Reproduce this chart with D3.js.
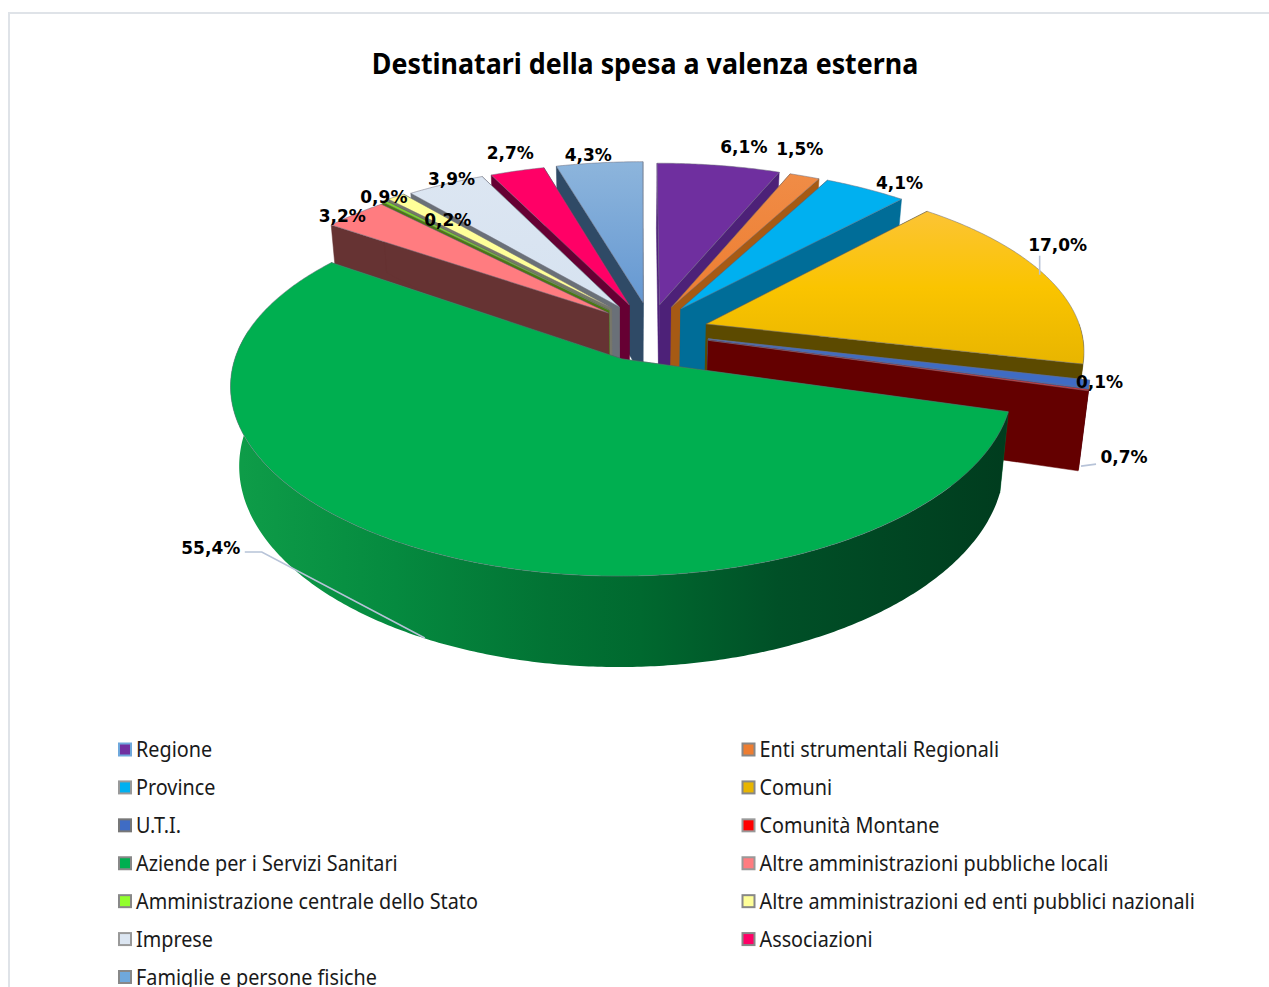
<!DOCTYPE html>
<html>
<head>
<meta charset="utf-8">
<script src="https://cdn.jsdelivr.net/npm/d3@7"></script>
<style>
html, body { margin: 0; padding: 0; background: #fff; overflow: hidden; }
svg { display: block; }
</style>
</head>
<body>
<div id="chart"></div>
<script>
const categories = [
    "Regione", "Enti strumentali Regionali", "Province", "Comuni", "U.T.I.", "Comunità Montane",
    "Aziende per i Servizi Sanitari", "Altre amministrazioni pubbliche locali",
    "Amministrazione centrale dello Stato", "Altre amministrazioni ed enti pubblici nazionali",
    "Imprese", "Associazioni", "Famiglie e persone fisiche",
];
const values = [6.1, 1.5, 4.1, 17.0, 0.7, 0.1, 55.4, 3.2, 0.2, 0.9, 3.9, 2.7, 4.3];

// colours: top face start/end, side wall, legend swatch border
const topColors = ["#6f2f9f", "#f08c46", "#00b0f0", "#fcc435", "#3f6cc4", "#ff2020", "#00af50", "#ff7c80", "#7fd62a", "#ffff99", "#dce6f2", "#ff0066", "#8db5dc"];
const topColorsMid = {3: "#fac400"};
const topColorsEnd = ["#6f2f9f", "#ed7d31", "#00b0f0", "#e8b500", "#3f6cc4", "#ff2020", "#00af50", "#ff7c80", "#7fd62a", "#ffff99", "#d6e2f0", "#ff0066", "#6598d2"];
const wallColors = ["#4d2178", "#a65a14", "#006d98", "#5c4a00", "#3f6cc4", "#640000", "#006a30", "#663333", "#4a7a10", "#77776a", "#6a7078", "#660033", "#2f4a66"];
const swatchColors = ["#7030a0", "#ed7d31", "#00b0f0", "#e8b500", "#3f6cc4", "#ff0000", "#00af50", "#ff7c80", "#92ff2d", "#ffff99", "#dce6f2", "#ff0066", "#6fa8dc"];
const swatchBorders = ["#6fa8dc", "#888", "#999", "#888", "#777", "#999", "#888", "#999", "#888", "#888", "#999", "#888", "#888"];

// how far each slice is pulled out of the pie, in pie radii
const explodeX = [0.092, 0.125, 0.150, 0.217, 0.220, 0.220, -0.008, -0.046, -0.045, -0.038, -0.017, 0.010, 0.048];
const explodeY = [0.309, 0.296, 0.285, 0.195, 0.108, 0.100, -0.005, 0.260, 0.278, 0.290, 0.297, 0.309, 0.321];
const radiusScale = [1, 1, 1, 1, 1, 1, 1.01, 1, 1, 1, 1, 1, 1];

// label text and where it sits relative to the middle of the slice rim
const labelTexts = ["6,1%", "1,5%", "4,1%", "17,0%", "0,7%", "0,1%", "55,4%", "3,2%", "0,2%", "0,9%", "3,9%", "2,7%", "4,3%"];
const labelDx = [25, -5, 34, 12, 35, 11, -216, -13, 64, -12, 6, -7, -11];
const labelDy = [-19, -27, -6, -31, 73, -8, -3, 2, 19, 0, -5, -18, -8];
// leader lines, relative to the label centre
const leaderLines = {
    3: [[-18, 11], [-18, 30]],
    4: [[-28, 7], [-43, 9]],
    6: [[34, 4], [51, 4], [214, 90]],
};

const width = 1269;
const height = 987;
const pie3d = {cx: 625, vanishX: 640, cy: 358, rx: 383, ry: 180, px: 0.14, py: 0.16, wall: 78, shrink: 0.978};

function project(x, y, bottom) {
    const sx = 1 / (1 + pie3d.px * y);
    const sy = 1 / (1 + pie3d.py * y);
    const px = pie3d.rx * x * sx + (1 - sx) * (pie3d.vanishX - pie3d.cx);
    const py = pie3d.cy - pie3d.ry * y * sy;
    if (!bottom) {
        return [pie3d.cx + px, py];
    }
    return [pie3d.cx + px * pie3d.shrink, py + pie3d.wall * sx];
}

const svg = d3.select("#chart")
    .append("svg")
    .attr("width", width)
    .attr("height", height)
    .attr("viewBox", `0 0 ${width} ${height}`);

const defs = svg.append("defs");

svg.append("path")
    .attr("d", `M9,${height} V13 H${width}`)
    .attr("fill", "none")
    .attr("stroke", "#dfe3e8")
    .attr("stroke-width", 2);

svg.append("text")
    .attr("transform", "translate(645, 74) scale(0.958, 1)")
    .attr("text-anchor", "middle")
    .attr("font-family", "'Noto Sans', sans-serif")
    .attr("font-weight", 700)
    .attr("font-size", 28)
    .attr("fill", "#000")
    .text("Destinatari della spesa a valenza esterna");

const slices = d3.pie().sort(null).value((d) => d)(values).map((arc, i) => ({
    index: i,
    start: arc.startAngle,
    end: arc.endAngle,
    mid: (arc.startAngle + arc.endAngle) / 2,
    ox: explodeX[i],
    oy: explodeY[i],
    r: radiusScale[i],
}));

function rimPoint(slice, angle, bottom) {
    return project(slice.ox + slice.r * Math.sin(angle), slice.oy + slice.r * Math.cos(angle), bottom);
}

function arcAngles(from, to) {
    const steps = Math.max(2, Math.ceil((to - from) / 0.01));
    return d3.range(steps + 1).map((k) => from + ((to - from) * k) / steps);
}

const pathLine = d3.line();
const closed = (points) => `${pathLine(points)}Z`;

// green wall shades from left to right, the others are flat
const wallGradient = defs.append("linearGradient")
    .attr("id", "wall-near")
    .attr("gradientUnits", "userSpaceOnUse")
    .attr("x1", pie3d.cx - pie3d.rx)
    .attr("x2", pie3d.cx + pie3d.rx)
    .attr("y1", 0)
    .attr("y2", 0);
[[0, "#0e9c48"], [0.2, "#058a3f"], [0.4, "#027334"], [0.52, "#00692f"], [0.7, "#005027"], [1, "#003c1e"]].forEach(([offset, color]) => {
    wallGradient.append("stop").attr("offset", offset).attr("stop-color", color);
});

slices.forEach((slice) => {
    const gradient = defs.append("linearGradient")
        .attr("id", `top-${slice.index}`)
        .attr("x1", 0).attr("x2", 0).attr("y1", 0).attr("y2", 1);
    gradient.append("stop").attr("offset", 0).attr("stop-color", topColors[slice.index]);
    if (topColorsMid[slice.index]) {
        gradient.append("stop").attr("offset", 0.5).attr("stop-color", topColorsMid[slice.index]);
    }
    gradient.append("stop").attr("offset", 1).attr("stop-color", topColorsEnd[slice.index]);
});

const edgeColor = "rgba(110,110,125,0.65)";
const plot = svg.append("g");

// far slices first so that nearer ones cover their walls
const drawOrder = slices.slice().sort((a, b) => Math.cos(b.mid) - Math.cos(a.mid));

drawOrder.forEach((slice) => {
    const i = slice.index;
    const wall = wallColors[i];
    const g = plot.append("g");
    const apexTop = project(slice.ox, slice.oy, false);
    const apexBottom = project(slice.ox, slice.oy, true);

    [slice.start, slice.end].forEach((angle) => {
        g.append("path")
            .attr("d", closed([apexTop, rimPoint(slice, angle, false), rimPoint(slice, angle, true), apexBottom]))
            .attr("fill", wall)
            .attr("stroke", wall)
            .attr("stroke-width", 0.5);
    });

    const from = Math.max(slice.start, Math.PI / 2);
    const to = Math.min(slice.end, Math.PI * 1.55);
    if (from < to) {
        const angles = arcAngles(from, to);
        const outer = angles.map((a) => rimPoint(slice, a, false))
            .concat(angles.slice().reverse().map((a) => rimPoint(slice, a, true)));
        const fill = i === 6 ? "url(#wall-near)" : wall;
        g.append("path")
            .attr("d", closed(outer))
            .attr("fill", fill)
            .attr("stroke", "none");
    }

    const top = [apexTop].concat(arcAngles(slice.start, slice.end).map((a) => rimPoint(slice, a, false)));
    g.append("path")
        .attr("d", closed(top))
        .attr("fill", `url(#top-${i})`)
        .attr("stroke", edgeColor)
        .attr("stroke-width", 0.8)
        .attr("stroke-linejoin", "round");
});

// data labels and leaders
const labelLayer = svg.append("g");
slices.forEach((slice) => {
    const i = slice.index;
    const rim = rimPoint(slice, slice.mid, false);
    const lx = rim[0] + labelDx[i];
    const ly = rim[1] + labelDy[i];
    if (leaderLines[i]) {
        labelLayer.append("path")
            .attr("d", pathLine(leaderLines[i].map(([dx, dy]) => [lx + dx, ly + dy])))
            .attr("fill", "none")
            .attr("stroke", "#b7c3d8")
            .attr("stroke-width", 1.6);
    }
    labelLayer.append("text")
        .attr("x", lx)
        .attr("y", ly)
        .attr("dy", "0.36em")
        .attr("text-anchor", "middle")
        .attr("font-family", "'DejaVu Sans', sans-serif")
        .attr("font-weight", 700)
        .attr("font-size", 17)
        .attr("fill", "#000")
        .text(labelTexts[i]);
});

// legend in two columns
const legendX = d3.scalePoint().domain([0, 1]).range([118, 741.5]);
const legendY = d3.scaleLinear().domain([0, 6]).range([749.5, 977]);
const legend = svg.append("g");
categories.forEach((name, i) => {
    const item = legend.append("g")
        .attr("transform", `translate(${legendX(i % 2)}, ${legendY(Math.floor(i / 2))})`);
    item.append("rect")
        .attr("x", 1)
        .attr("y", -6)
        .attr("width", 12)
        .attr("height", 12)
        .attr("fill", swatchColors[i])
        .attr("stroke", swatchBorders[i])
        .attr("stroke-width", 2);
    item.append("text")
        .attr("transform", "translate(18, 0) scale(0.943, 1)")
        .attr("dy", "0.36em")
        .attr("font-family", "'Noto Sans', sans-serif")
        .attr("font-size", 21)
        .attr("fill", "#1a1a1a")
        .text(name);
});
</script>
</body>
</html>
